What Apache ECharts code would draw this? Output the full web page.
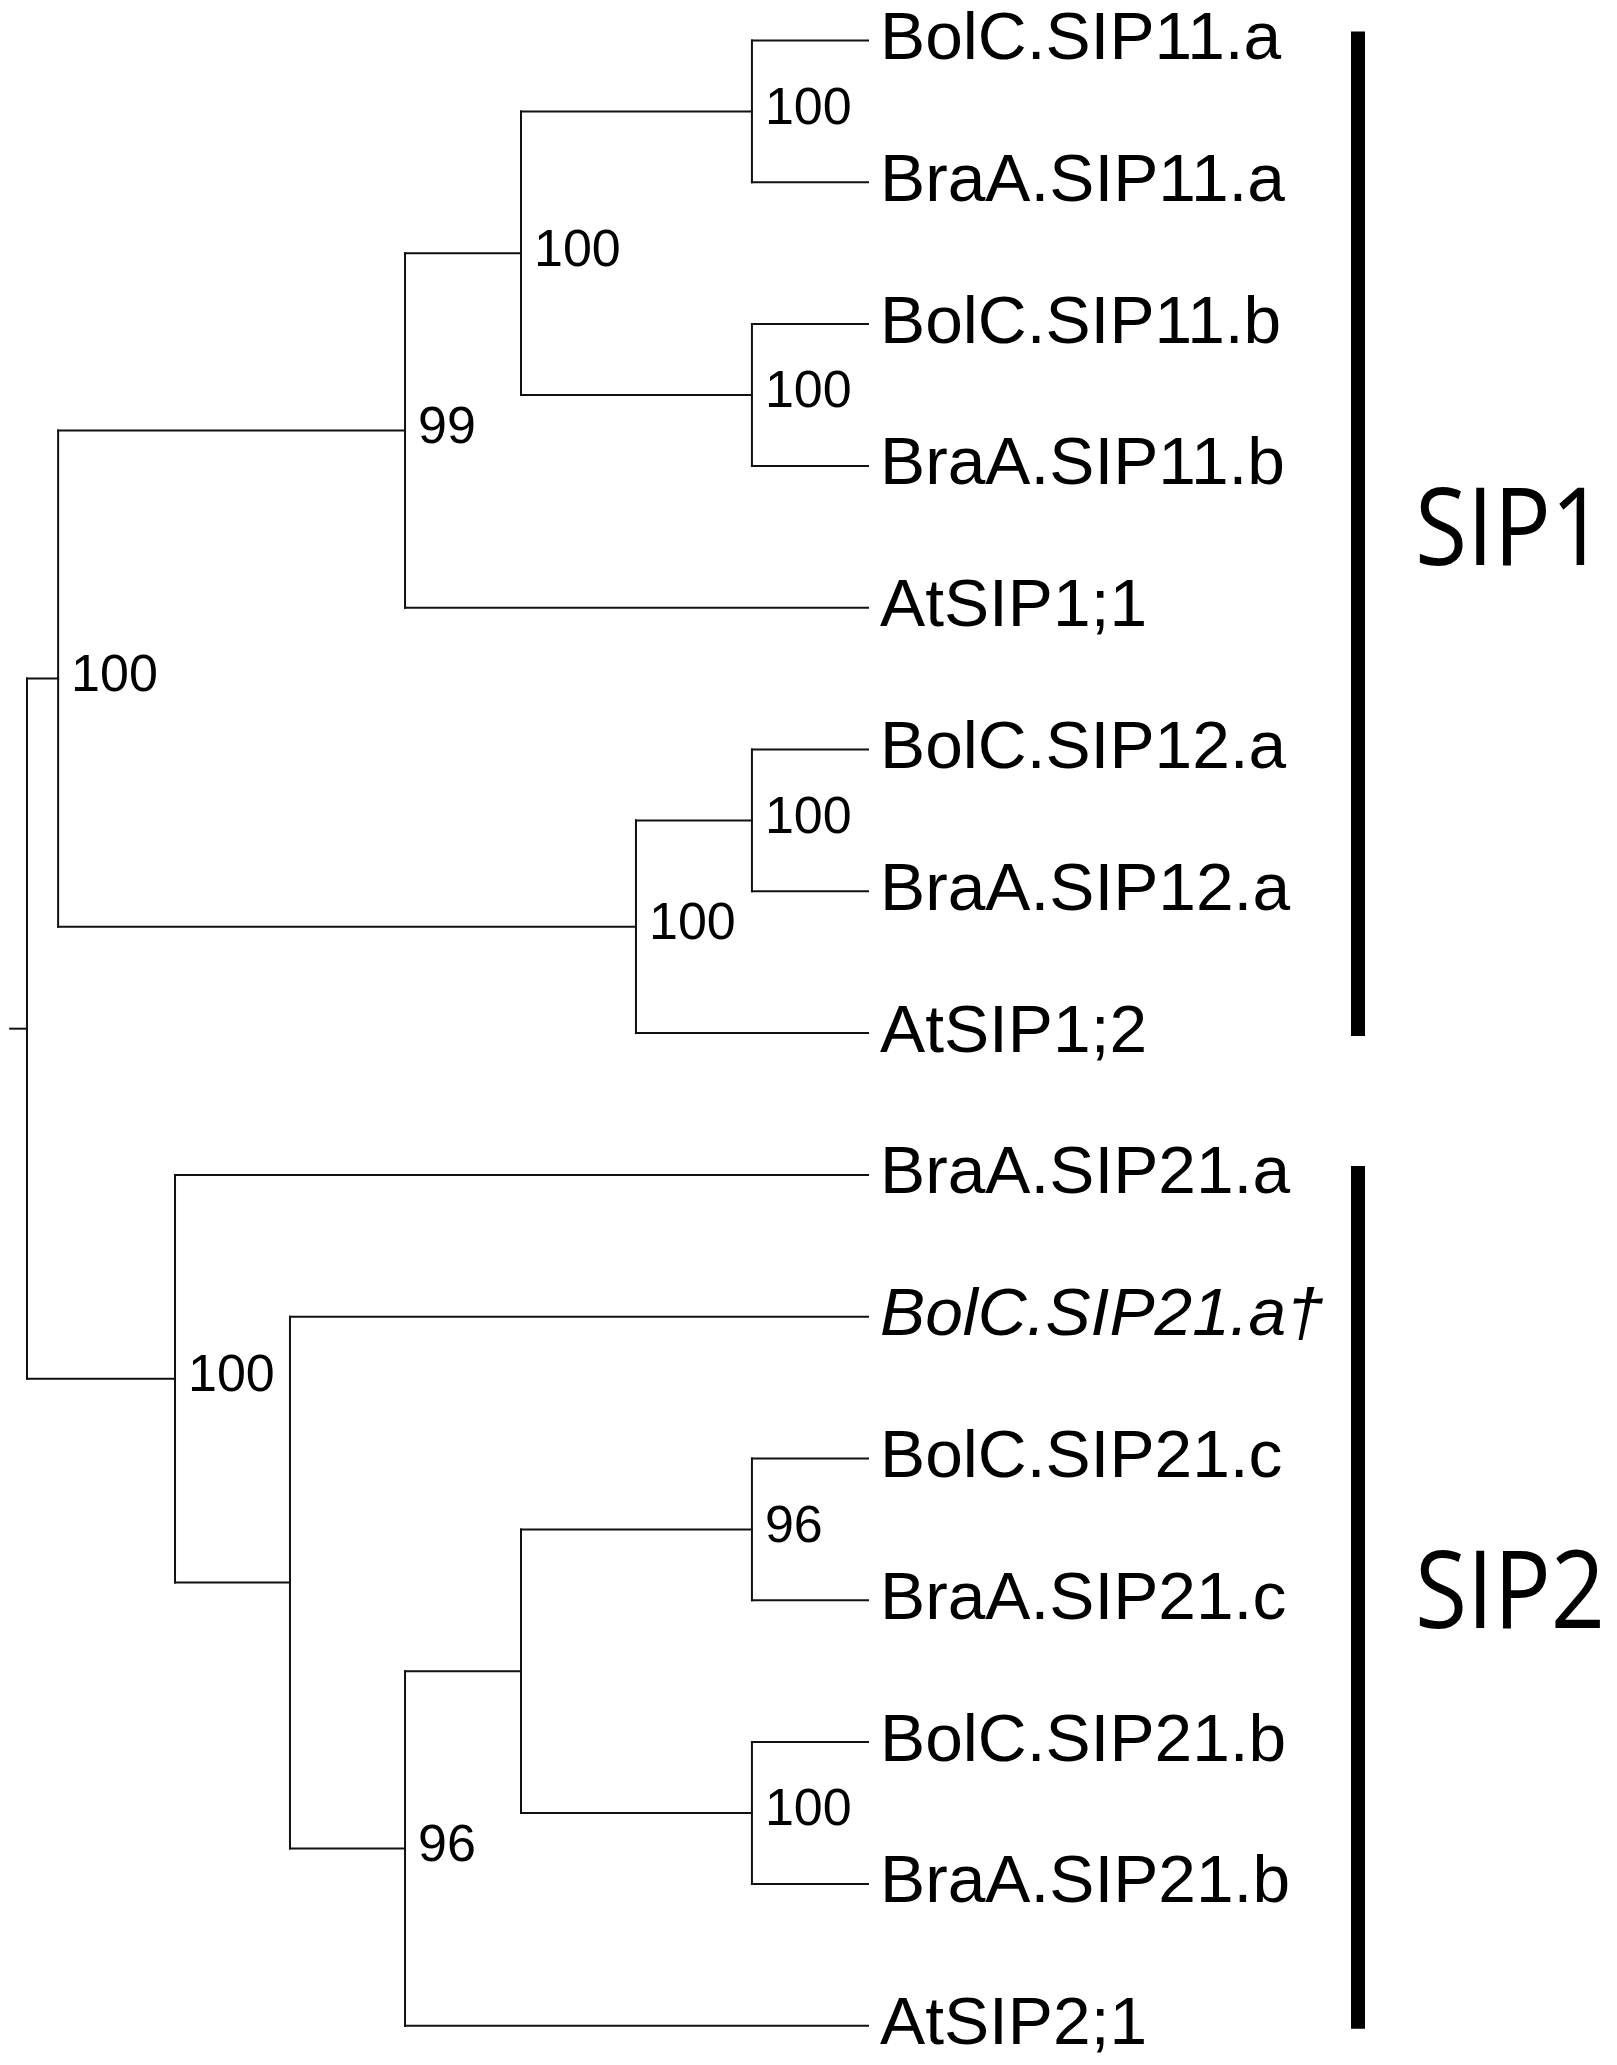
<!DOCTYPE html>
<html>
<head>
<meta charset="utf-8">
<script src="https://cdn.jsdelivr.net/npm/echarts@6/dist/echarts.min.js"></script>
<style>
  html, body { margin: 0; padding: 0; background: #fff; }
  #chart { width: 1617px; height: 2065px; }
</style>
</head>
<body>
<div id="chart"></div>
<script>
// leaves, top to bottom (index = row on the y axis)
const leafNames = [
  'BolC.SIP11.a', 'BraA.SIP11.a', 'BolC.SIP11.b', 'BraA.SIP11.b', 'AtSIP1;1',
  'BolC.SIP12.a', 'BraA.SIP12.a', 'AtSIP1;2',
  'BraA.SIP21.a', 'BolC.SIP21.a\u2020', 'BolC.SIP21.c', 'BraA.SIP21.c',
  'BolC.SIP21.b', 'BraA.SIP21.b', 'AtSIP2;1'
];
const leafItalic = [false, false, false, false, false, false, false, false,
                    false, true, false, false, false, false, false];
const leafDepth = [1, 1, 1, 1, 1, 1, 1, 1, 1, 1, 1, 1, 1, 1, 1];

// internal nodes: depth from the root (tips = 1), children are leaf rows or node names
const nodeNames = ['root', 'SIP1', 'n99', 'SIP11', 'SIP11a', 'SIP11b', 'SIP12', 'SIP12a',
                   'SIP2', 'n2a', 'n96', 'n2b', 'SIP21c', 'SIP21b'];
const nodeDepth = [0, 0.037, 0.4495, 0.5874, 0.862, 0.862, 0.7241, 0.862,
                   0.176, 0.3127, 0.4495, 0.5874, 0.862, 0.862];
const nodeChildren = [
  ['SIP1', 'SIP2'], ['n99', 'SIP12'], ['SIP11', 4], ['SIP11a', 'SIP11b'], [0, 1], [2, 3],
  ['SIP12a', 7], [5, 6],
  [8, 'n2a'], [9, 'n96'], ['n2b', 14], ['SIP21c', 'SIP21b'], [10, 11], [12, 13]
];
const nodeSupport = [null, 100, 99, 100, 100, 100, 100, 100, 100, null, 96, null, 96, 100];
const rootStubDepth = -0.02;

// clade brackets
const cladeNames = ['SIP1', 'SIP2'];
const cladeFirstLeaf = [0, 8];
const cladeLastLeaf = [7, 14];

// ---- tree geometry ----
const nodeY = {};
function depthOf(c) { return typeof c === 'number' ? leafDepth[c] : nodeDepth[nodeNames.indexOf(c)]; }
function yOf(c) {
  if (typeof c === 'number') return c;
  if (nodeY[c] === undefined) {
    const ys = nodeChildren[nodeNames.indexOf(c)].map(yOf);
    nodeY[c] = (Math.min(...ys) + Math.max(...ys)) / 2;
  }
  return nodeY[c];
}

const branches = [];
nodeNames.forEach((name, i) => {
  const ys = nodeChildren[i].map(yOf);
  branches.push([nodeDepth[i], Math.min(...ys), nodeDepth[i], Math.max(...ys)]);
  nodeChildren[i].forEach(c => branches.push([nodeDepth[i], yOf(c), depthOf(c), yOf(c)]));
});
const rootY = yOf('root');
branches.push([rootStubDepth, rootY, 0, rootY]);

const supportData = [];
nodeNames.forEach((name, i) => {
  if (nodeSupport[i] != null) supportData.push([nodeDepth[i], yOf(name), nodeSupport[i]]);
});

const chart = echarts.init(document.getElementById('chart'), null, { renderer: 'canvas' });

chart.setOption({
  animation: false,
  backgroundColor: '#fff',
  grid: { left: 0, right: 0, top: 0, bottom: 0 },
  xAxis: { type: 'value', min: -0.0321, max: 1.8906, show: false },
  yAxis: { type: 'value', min: -0.2856, max: 14.277, inverse: true, show: false },
  series: [
    {
      name: 'branches',
      type: 'custom',
      data: branches,
      encode: { x: [0, 2], y: [1, 3] },
      renderItem: (params, api) => {
        const a = api.coord([api.value(0), api.value(1)]);
        const b = api.coord([api.value(2), api.value(3)]);
        return {
          type: 'line',
          shape: { x1: a[0], y1: a[1], x2: b[0], y2: b[1] },
          style: { stroke: '#111', lineWidth: 2, lineCap: 'square' }
        };
      }
    },
    {
      name: 'leaves',
      type: 'custom',
      data: leafNames.map((n, i) => [leafDepth[i], i]),
      encode: { x: 0, y: 1 },
      renderItem: (params, api) => {
        const p = api.coord([api.value(0), api.value(1)]);
        const i = params.dataIndex;
        return {
          type: 'text',
          x: p[0] + 12,
          y: p[1],
          scaleX: 1.01,
          style: {
            text: leafNames[i],
            fontSize: 67,
            fontFamily: '"Liberation Sans", Arial, sans-serif',
            fontStyle: leafItalic[i] ? 'italic' : 'normal',
            fill: '#000',
            align: 'left',
            verticalAlign: 'middle'
          }
        };
      }
    },
    {
      name: 'support',
      type: 'custom',
      data: supportData,
      encode: { x: 0, y: 1 },
      renderItem: (params, api) => {
        const p = api.coord([api.value(0), api.value(1)]);
        return {
          type: 'text',
          x: p[0] + 13,
          y: p[1] - 2,
          style: {
            text: String(api.value(2)),
            fontSize: 52,
            fontFamily: '"Liberation Sans", Arial, sans-serif',
            fill: '#000',
            align: 'left',
            verticalAlign: 'middle'
          }
        };
      }
    },
    {
      name: 'clades',
      type: 'custom',
      data: cladeNames.map((n, i) => [1, cladeFirstLeaf[i], cladeLastLeaf[i]]),
      encode: { x: 0, y: [1, 2] },
      renderItem: (params, api) => {
        const top = api.coord([api.value(0), api.value(1)]);
        const bot = api.coord([api.value(0), api.value(2)]);
        const x = top[0] + 483;
        return {
          type: 'group',
          children: [
            {
              type: 'rect',
              shape: { x: x, y: top[1] - 9, width: 14, height: bot[1] - top[1] + 12 },
              style: { fill: '#000' }
            },
            {
              type: 'text',
              x: x + 64,
              y: (top[1] + bot[1]) / 2 - 3,
              scaleX: 0.88,
              style: {
                text: cladeNames[params.dataIndex],
                fontSize: 108,
                fontFamily: '"Open Sans", "Noto Sans", sans-serif',
                fill: '#000',
                align: 'left',
                verticalAlign: 'middle'
              }
            }
          ]
        };
      }
    }
  ]
});
</script>
</body>
</html>
